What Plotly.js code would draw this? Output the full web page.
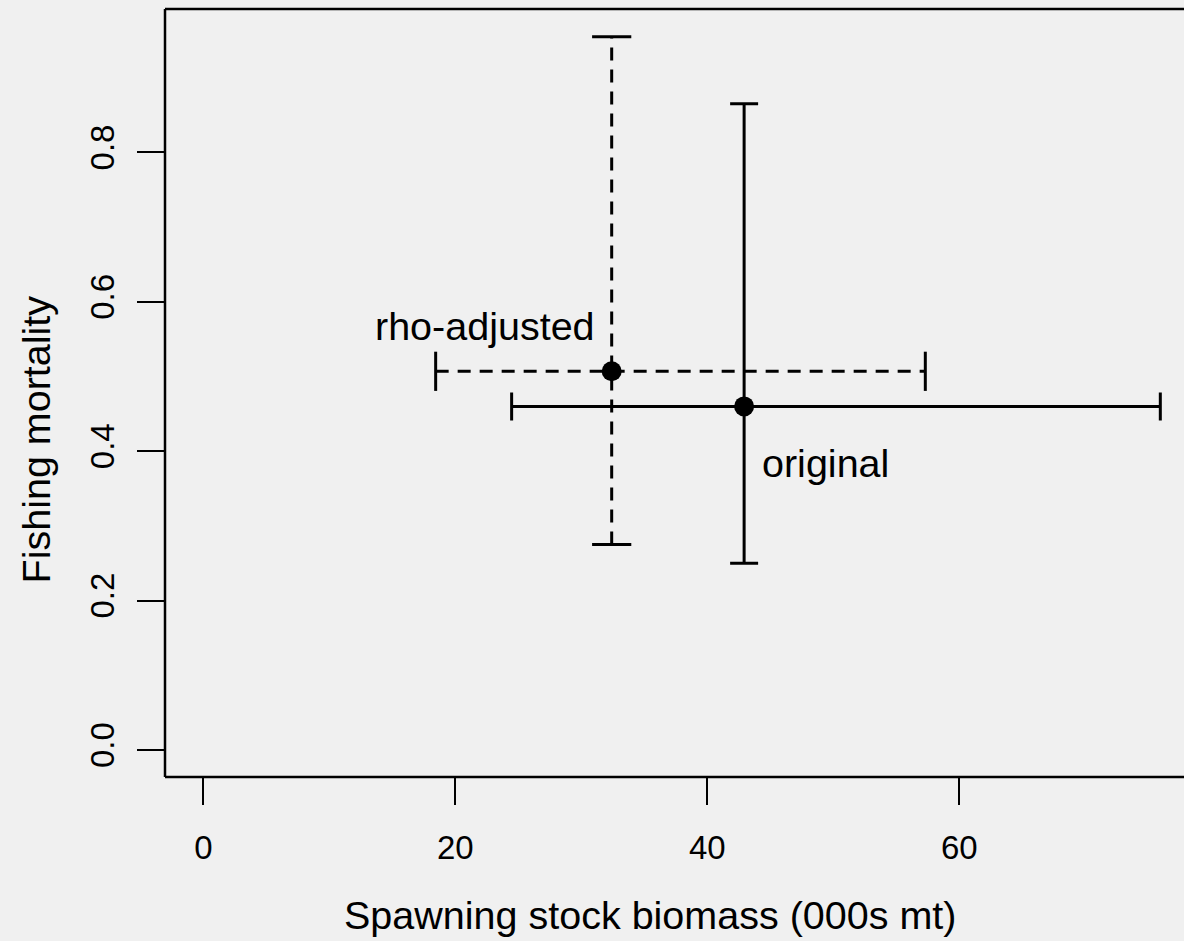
<!DOCTYPE html>
<html>
<head>
<meta charset="utf-8">
<script src="https://cdn.plot.ly/plotly-3.0.1.min.js"></script>
<style>html,body{margin:0;padding:0;background:#f0f0f0;}#chart{width:1184px;height:941px;}</style>
</head>
<body>
<div id="chart"></div>
<script>
// Data
const seriesNames = ['original', 'rho-adjusted'];
const ssb   = [42.92, 32.41];   // spawning stock biomass (000s mt), point estimate
const ssbLo = [24.47, 18.44];   // lower bound
const ssbHi = [75.95, 57.30];   // upper bound
const fmort   = [0.460, 0.507]; // fishing mortality, point estimate
const fmortLo = [0.250, 0.275];
const fmortHi = [0.865, 0.955];
const xTicks = [0, 20, 40, 60];
const yTicks = [0.0, 0.2, 0.4, 0.6, 0.8];
const yTickText = ['0.0', '0.2', '0.4', '0.6', '0.8'];
const xTitle = 'Spawning stock biomass (000s mt)';
const yTitle = 'Fishing mortality';

const FONT = 'Liberation Sans, Arial, Helvetica, sans-serif';
const BLACK = '#000000';
const LW = 3;
const LABEL_SIZE = 39.5;

const traces = [];
// original: solid error bars
traces.push({
  type: 'scatter', mode: 'markers', name: seriesNames[0],
  x: [ssb[0]], y: [fmort[0]],
  marker: {size: 20, color: BLACK},
  error_x: {type: 'data', symmetric: false,
    array: [ssbHi[0] - ssb[0]], arrayminus: [ssb[0] - ssbLo[0]],
    width: 14, thickness: LW, color: BLACK},
  error_y: {type: 'data', symmetric: false,
    array: [fmortHi[0] - fmort[0]], arrayminus: [fmort[0] - fmortLo[0]],
    width: 14, thickness: LW, color: BLACK},
  showlegend: false, hoverinfo: 'skip'
});
// rho-adjusted: dashed bars
traces.push({
  type: 'scatter', mode: 'lines', name: seriesNames[1],
  x: [ssbLo[1], ssbHi[1]], y: [fmort[1], fmort[1]],
  line: {color: BLACK, width: LW, dash: '13px,9px'},
  showlegend: false, hoverinfo: 'skip'
});
traces.push({
  type: 'scatter', mode: 'lines', name: seriesNames[1],
  x: [ssb[1], ssb[1]], y: [fmortLo[1], fmortHi[1]],
  line: {color: BLACK, width: LW, dash: '13px,9px'},
  showlegend: false, hoverinfo: 'skip'
});
// caps
traces.push({
  type: 'scatter', mode: 'markers',
  x: [ssbLo[1], ssbHi[1]], y: [fmort[1], fmort[1]],
  marker: {symbol: 'line-ns', size: 28, color: BLACK, line: {color: BLACK, width: LW}},
  showlegend: false, hoverinfo: 'skip'
});
traces.push({
  type: 'scatter', mode: 'markers',
  x: [ssb[1], ssb[1]], y: [fmortLo[1], fmortHi[1]],
  marker: {symbol: 'line-ew', size: 28, color: BLACK, line: {color: BLACK, width: LW}},
  showlegend: false, hoverinfo: 'skip'
});
traces.push({
  type: 'scatter', mode: 'markers', name: seriesNames[1],
  x: [ssb[1]], y: [fmort[1]],
  marker: {size: 20, color: BLACK},
  showlegend: false, hoverinfo: 'skip'
});

const layout = {
  width: 1184, height: 941,
  margin: {l: 165, r: 0, t: 9, b: 164, pad: 0},
  paper_bgcolor: '#f0f0f0', plot_bgcolor: '#f0f0f0',
  font: {family: FONT, size: 33, color: BLACK},
  showlegend: false,
  xaxis: {
    range: [-3.04, 77.83], autorange: false,
    tickvals: xTicks, ticktext: xTicks.map(String),
    ticks: 'outside', ticklen: 27, tickwidth: 2, tickcolor: BLACK,
    showgrid: false, zeroline: false, showline: false,
    tickfont: {family: FONT, size: 33, color: BLACK},
    ticklabelstandoff: 14
  },
  yaxis: {
    range: [-0.0361, 0.992], autorange: false,
    tickvals: yTicks, ticktext: yTickText,
    ticks: 'outside', ticklen: 27, tickwidth: 2, tickcolor: BLACK,
    tickangle: -90,
    showgrid: false, zeroline: false, showline: false,
    tickfont: {family: FONT, size: 33, color: BLACK},
    ticklabelstandoff: 10
  },
  shapes: [
    {type: 'line', xref: 'paper', yref: 'paper', x0: 0, x1: 0, y0: 0, y1: 1, line: {color: BLACK, width: 2.5}},
    {type: 'line', xref: 'paper', yref: 'paper', x0: 0, x1: 1.01, y0: 0, y1: 0, line: {color: BLACK, width: 2.5}},
    {type: 'line', xref: 'paper', yref: 'paper', x0: 0, x1: 1.01, y0: 1, y1: 1, line: {color: BLACK, width: 2.5}}
  ],
  annotations: [
    {x: 0.4760, y: -0.1801, xref: 'paper', yref: 'paper', text: xTitle, showarrow: false,
     xanchor: 'center', yanchor: 'middle', font: {family: FONT, size: LABEL_SIZE, color: BLACK}},
    {x: -0.1266, y: 0.4395, xref: 'paper', yref: 'paper', text: yTitle, showarrow: false,
     textangle: -90, xanchor: 'center', yanchor: 'middle', font: {family: FONT, size: LABEL_SIZE, color: BLACK}},
    {x: 22.36, y: 0.5676, xref: 'x', yref: 'y', text: seriesNames[1], showarrow: false,
     xanchor: 'center', yanchor: 'middle', font: {family: FONT, size: LABEL_SIZE, color: BLACK}},
    {x: 49.4, y: 0.384, xref: 'x', yref: 'y', text: seriesNames[0], showarrow: false,
     xanchor: 'center', yanchor: 'middle', font: {family: FONT, size: LABEL_SIZE, color: BLACK}}
  ]
};

Plotly.newPlot('chart', traces, layout, {staticPlot: true, displayModeBar: false});
</script>
</body>
</html>
